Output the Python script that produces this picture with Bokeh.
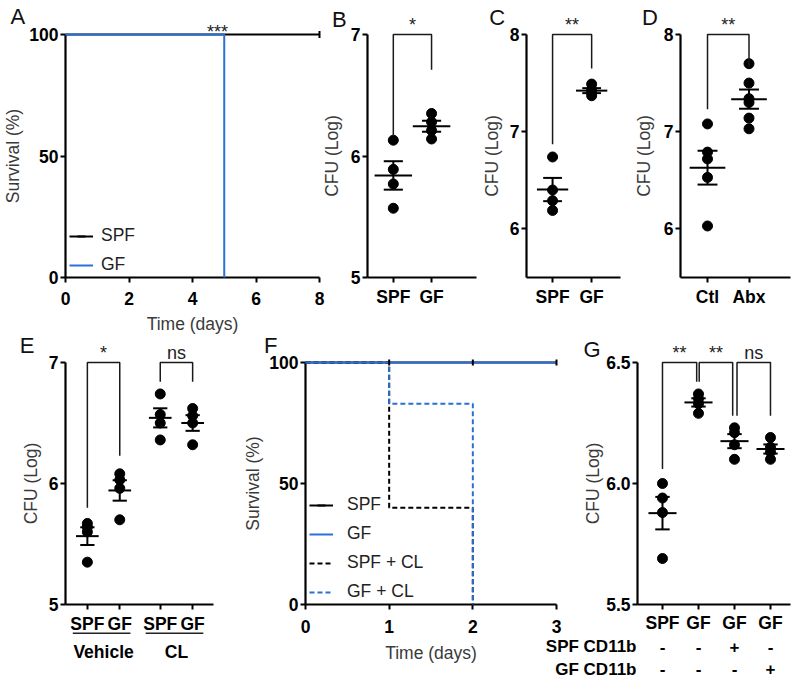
import math
import numpy as np
from bokeh.plotting import figure
from bokeh.models import (Range1d, FixedTicker, GridBox, Legend, LegendItem,
                          PrintfTickFormatter)
from bokeh.core.properties import value
from bokeh.embed import file_html
from bokeh.resources import INLINE

FONT = "Liberation Sans"
BLUE = "#2c6fd6"

# ---------------------------------------------------------------- data
# A: survival (%), SPF vs GF
a_spf_time = [0, 8]
a_spf_surv = [100, 100]
a_spf_censor = [8]
a_gf_time = [0, 5]
a_gf_surv = [100, 0]
a_gf_censor = []
a_xticks = [0, 2, 4, 6, 8]
a_yticks = [0, 50, 100]
a_sig = "***"

# B: CFU (log)
b_labels = ["SPF", "GF"]
b_pos = [1, 2]
b_spf = [6.13, 5.89, 5.77, 5.57]
b_gf = [6.35, 6.28, 6.21, 6.14]
b_yticks = [5, 6, 7]
b_brackets = [(1, 2, 7.0, 6.17, 6.71, "*")]

# C
c_labels = ["SPF", "GF"]
c_pos = [1, 2]
c_spf = [6.74, 6.40, 6.29, 6.19]
c_gf = [7.49, 7.43, 7.40, 7.37]
c_yticks = [6, 7, 8]
c_brackets = [(1, 2, 8.0, 6.87, 7.65, "**")]

# D
d_labels = ["Ctl", "Abx"]
d_pos = [1, 2]
d_ctl = [7.08, 6.79, 6.72, 6.53, 6.03]
d_abx = [7.70, 7.50, 7.34, 7.30, 7.14, 7.03]
d_yticks = [6, 7, 8]
d_brackets = [(1, 2, 8.0, 7.23, 7.66, "**")]

# E
e_labels = ["SPF", "GF", "SPF", "GF"]
e_pos = [1, 2, 3.25, 4.25]
e_groups = ["Vehicle", "CL"]
e_group_members = [(0, 1), (2, 3)]
e_veh_spf = [5.67, 5.64, 5.60, 5.35]
e_veh_gf = [6.08, 6.03, 5.96, 5.70]
e_cl_spf = [6.74, 6.57, 6.50, 6.36]
e_cl_gf = [6.62, 6.56, 6.50, 6.32]
e_yticks = [5, 6, 7]
e_brackets = [(1, 2, 7.0, 5.80, 6.23, "*"),
              (3.25, 4.25, 7.0, 6.84, 6.84, "ns")]

# F: survival (%)
f_series = ["SPF", "GF", "SPF + CL", "GF + CL"]
f_spf_time, f_spf_surv = [0, 3], [100, 100]
f_gf_time, f_gf_surv = [0, 3], [100, 100]
f_spfcl_time, f_spfcl_surv = [0, 1, 2], [100, 40, 0]
f_gfcl_time, f_gfcl_surv = [0, 1, 2], [100, 83, 0]
f_spf_censor = [1, 2, 3]
f_xticks = [0, 1, 2, 3]
f_yticks = [0, 50, 100]

# G
g_labels = ["SPF", "GF", "GF", "GF"]
g_pos = [1, 2, 3, 4]
g_spf = [6.00, 5.94, 5.88, 5.69]
g_gf = [6.37, 6.35, 6.33, 6.29]
g_gf_spfcd = [6.23, 6.21, 6.16, 6.10]
g_gf_gfcd = [6.19, 6.15, 6.13, 6.10]
g_yticks = [5.5, 6.0, 6.5]
g_row_names = ["SPF CD11b", "GF CD11b"]
g_spf_cd11b = ["-", "-", "+", "-"]
g_gf_cd11b = ["-", "-", "-", "+"]
g_brackets = [(1, 1.95, 6.5, 6.06, 6.42, "**"),
              (2.02, 2.95, 6.5, 6.42, 6.28, "**"),
              (3.07, 4.0, 6.5, 6.28, 6.28, "ns")]


# ---------------------------------------------------------------- helpers
def new_panel(fig_box, frame_box, xr, yr):
    fx0, fy0, fx1, fy1 = fig_box
    gx0, gy0, gx1, gy1 = frame_box
    p = figure(width=fx1 - fx0, height=fy1 - fy0,
               x_range=Range1d(*xr), y_range=Range1d(*yr),
               min_border_left=gx0 - fx0, min_border_right=fx1 - gx1,
               min_border_top=gy0 - fy0, min_border_bottom=fy1 - gy1,
               output_backend="svg", toolbar_location=None,
               background_fill_color=None, border_fill_color=None,
               outline_line_color=None)
    p.grid.visible = False

    def X(ix):
        return xr[0] + (ix - gx0) / (gx1 - gx0) * (xr[1] - xr[0])

    def Y(iy):
        return yr[0] + (gy1 - iy) / (gy1 - gy0) * (yr[1] - yr[0])
    return p, X, Y


def style(p, xticks, yticks, ylabel, xlabel=None, xover=None, yfmt=None,
          xstand=4, ylab_stand=5, xlab_stand=6):
    xa, ya = p.xaxis[0], p.yaxis[0]
    xa.ticker = FixedTicker(ticks=xticks)
    ya.ticker = FixedTicker(ticks=yticks)
    for ax in (xa, ya):
        ax.axis_line_width = 2.2
        ax.axis_line_color = "black"
        ax.major_tick_line_width = 2
        ax.major_tick_line_color = "black"
        ax.major_tick_out = 5
        ax.major_tick_in = 0
        ax.minor_tick_line_color = None
        ax.major_label_text_font = FONT
        ax.major_label_text_font_style = "bold"
        ax.major_label_text_font_size = "17.5px"
        ax.major_label_text_color = "black"
        ax.axis_label_text_font = FONT
        ax.axis_label_text_font_style = "normal"
        ax.axis_label_text_font_size = "17.5px"
        ax.axis_label_text_color = "#3a3a3a"
    ya.major_label_standoff = 2
    ya.axis_label_standoff = ylab_stand
    xa.major_label_standoff = xstand
    xa.axis_label_standoff = xlab_stand
    ya.axis_label = ylabel
    if xlabel:
        xa.axis_label = xlabel
    if xover:
        xa.major_label_overrides = xover
    if yfmt:
        ya.formatter = yfmt


def txt(p, x, y, t, size="18px", bold=False, align="center",
        baseline="middle", color="black"):
    r = p.text(x=list(x), y=list(y), text=list(t), text_font=value(FONT),
               text_font_size=size,
               text_font_style="bold" if bold else "normal",
               text_align=align, text_baseline=baseline, text_color=color)
    r.level = "overlay"
    return r


def letter(p, X, Y, ix, iy, t):
    txt(p, [X(ix)], [Y(iy)], [t], size="22px", align="left",
        baseline="middle", color="#111111")


def surv_at(times, surv, t):
    v = surv[0]
    for ti, si in zip(times, surv):
        if ti <= t:
            v = si
    return v


def dots(p, positions, series, hw, cw):
    xs, ys = [], []
    for x, vals in zip(positions, series):
        xs += [x] * len(vals)
        ys += list(vals)
    r = p.scatter(xs, ys, size=10, color="black")
    r.level = "overlay"
    x0, y0, x1, y1 = [], [], [], []
    for x, vals in zip(positions, series):
        v = np.asarray(vals, dtype=float)
        m = v.mean()
        s = v.std(ddof=1) / math.sqrt(len(v))
        for a, b, c, d in [(x - hw, m, x + hw, m), (x, m - s, x, m + s),
                           (x - cw, m + s, x + cw, m + s),
                           (x - cw, m - s, x + cw, m - s)]:
            x0.append(a); y0.append(b); x1.append(c); y1.append(d)
    r = p.segment(x0, y0, x1, y1, line_color="black", line_width=2)
    r.level = "overlay"


def brackets(p, items):
    for x1, x2, top, yl, yr_, lab in items:
        r = p.line([x1, x1, x2, x2], [yl, top, top, yr_], line_color="#1a1a1a",
                   line_width=1.5)
        r.level = "overlay"
        txt(p, [(x1 + x2) / 2], [top], [lab], size="18px", baseline="bottom",
            color="#222222")


def legend(p, items, loc, standoff):
    lg = Legend(items=items, location=loc, orientation="vertical",
                glyph_width=24, glyph_height=20, label_height=20, spacing=8,
                padding=0, margin=0, label_standoff=standoff,
                border_line_color=None, background_fill_alpha=0,
                label_text_font=FONT, label_text_font_size="17.5px",
                label_text_color="#222222")
    p.add_layout(lg)


TOP = (0, 338)      # image y-extent of top-row canvases
BOT = (328, 681)    # image y-extent of bottom-row canvases

# ---------------------------------------------------------------- panel A
pA, XA, YA = new_panel((0, TOP[0], 326, TOP[1]), (65, 34, 319, 278), (0, 8), (0, 100))
style(pA, a_xticks, a_yticks, "Survival (%)", xlabel="Time (days)", xstand=9,
      ylab_stand=3)
rA1 = pA.step(a_spf_time, a_spf_surv, mode="after", line_color="black", line_width=2)
rA2 = pA.step(a_gf_time, a_gf_surv, mode="after", line_color=BLUE, line_width=2)
rA1c = pA.scatter(a_spf_censor, [surv_at(a_spf_time, a_spf_surv, t) for t in a_spf_censor],
                  marker="dash", angle=math.pi / 2, size=7, line_color="black", line_width=2)
rA2c = pA.scatter(a_gf_censor, [surv_at(a_gf_time, a_gf_surv, t) for t in a_gf_censor],
                  marker="dash", angle=math.pi / 2, size=7, line_color=BLUE, line_width=2)
for r in (rA1, rA2, rA1c, rA2c):
    r.level = "overlay"
legend(pA, [LegendItem(label="SPF", renderers=[rA1, rA1c]),
            LegendItem(label="GF", renderers=[rA2, rA2c])], (4, 2), 8)
txt(pA, [XA(217)], [YA(42)], [a_sig], size="18px", baseline="bottom", color="#222222")
letter(pA, XA, YA, 10, 16, "A")

# ---------------------------------------------------------------- panel B
pB, XB, YB = new_panel((318, TOP[0], 478, TOP[1]), (362, 31, 476, 277), (0.325, 3.175), (5, 7))
style(pB, b_pos, b_yticks, "CFU (Log)", xover=dict(zip(b_pos, b_labels)), ylab_stand=6)
dots(pB, b_pos, [b_spf, b_gf], 0.49, 0.25)
brackets(pB, b_brackets)
letter(pB, XB, YB, 325, 16, "B")

# ---------------------------------------------------------------- panel C
pC, XC, YC = new_panel((478, TOP[0], 630, TOP[1]), (519, 32, 620, 277), (0.333, 2.738), (5.5, 8))
style(pC, c_pos, c_yticks, "CFU (Log)", xover=dict(zip(c_pos, c_labels)), ylab_stand=5)
dots(pC, c_pos, [c_spf, c_gf], 0.40, 0.24)
brackets(pC, c_brackets)
letter(pC, XC, YC, 479, 15, "C")

# ---------------------------------------------------------------- panel D
pD, XD, YD = new_panel((630, TOP[0], 792, TOP[1]), (677, 33, 791, 278), (0.349, 3.0), (5.5, 8))
style(pD, d_pos, d_yticks, "CFU (Log)", xover=dict(zip(d_pos, d_labels)), ylab_stand=7)
dots(pD, d_pos, [d_ctl, d_abx], 0.43, 0.24)
brackets(pD, d_brackets)
letter(pD, XD, YD, 637, 16, "D")

# ---------------------------------------------------------------- panel E
pE, XE, YE = new_panel((0, BOT[0], 240, BOT[1]), (64, 360, 213, 604), (0.325, 4.894), (5, 7))
style(pE, e_pos, e_yticks, "CFU (Log)", xover=dict(zip(e_pos, e_labels)), ylab_stand=5)
dots(pE, e_pos, [e_veh_spf, e_veh_gf, e_cl_spf, e_cl_gf], 0.35, 0.22)
brackets(pE, e_brackets)
ux0 = [e_pos[a] - 0.45 for a, b in e_group_members]
ux1 = [e_pos[b] + 0.33 for a, b in e_group_members]
rU = pE.segment(ux0, [YE(633)] * 2, ux1, [YE(633)] * 2, line_color="#222222", line_width=1.5)
rU.level = "overlay"
txt(pE, [(e_pos[a] + e_pos[b]) / 2 for a, b in e_group_members], [YE(652)] * 2,
    e_groups, size="17.5px", bold=True)
letter(pE, XE, YE, 18, 343, "E")

# ---------------------------------------------------------------- panel F
pF, XF, YF = new_panel((240, BOT[0], 565, BOT[1]), (302, 362, 556, 606), (0, 3), (0, 100))
style(pF, f_xticks, f_yticks, "Survival (%)", xlabel="Time (days)", xstand=10,
      ylab_stand=3, xlab_stand=7)
rF3 = pF.step(f_spfcl_time, f_spfcl_surv, mode="after", line_color="black",
              line_width=2, line_dash="5 3")
rF4 = pF.step(f_gfcl_time, f_gfcl_surv, mode="after", line_color=BLUE,
              line_width=2, line_dash="5 3")
rF1 = pF.step(f_spf_time, f_spf_surv, mode="after", line_color="black", line_width=2)
rF2 = pF.step(f_gf_time, f_gf_surv, mode="after", line_color=BLUE, line_width=2)
rF1c = pF.scatter(f_spf_censor, [surv_at(f_spf_time, f_spf_surv, t) for t in f_spf_censor],
                  marker="dash", angle=math.pi / 2, size=6, line_color="black", line_width=2)
for r in (rF1, rF2, rF3, rF4, rF1c):
    r.level = "overlay"
legend(pF, [LegendItem(label=f_series[0], renderers=[rF1, rF1c]),
            LegendItem(label=f_series[1], renderers=[rF2]),
            LegendItem(label=f_series[2], renderers=[rF3]),
            LegendItem(label=f_series[3], renderers=[rF4])], (4, 2), 14)
letter(pF, XF, YF, 260, 345, "F")

# ---------------------------------------------------------------- panel G
pG, XG, YG = new_panel((540, BOT[0], 792, BOT[1]), (637, 357, 790, 604), (0.306, 4.556), (5.5, 6.5))
style(pG, g_pos, g_yticks, "CFU (Log)", xover=dict(zip(g_pos, g_labels)),
      yfmt=PrintfTickFormatter(format="%.1f"), xstand=3, ylab_stand=0)
dots(pG, g_pos, [g_spf, g_gf, g_gf_spfcd, g_gf_gfcd], 0.39, 0.2)
brackets(pG, g_brackets)
txt(pG, [XG(636)] * 2, [YG(647), YG(670)], g_row_names, size="17px", bold=True, align="right")
txt(pG, g_pos, [YG(647)] * 4, g_spf_cd11b, size="17px", bold=True)
txt(pG, g_pos, [YG(670)] * 4, g_gf_cd11b, size="17px", bold=True)
letter(pG, XG, YG, 583, 344, "G")

# ---------------------------------------------------------------- layout
xedges = [0, 240, 318, 326, 478, 540, 565, 630, 792]
yedges = [TOP[0], BOT[0], TOP[1], BOT[1]]
cols = ["%dpx" % (b - a) for a, b in zip(xedges[:-1], xedges[1:])]
rows = ["%dpx" % (b - a) for a, b in zip(yedges[:-1], yedges[1:])]
grid = GridBox(children=[(pA, 0, 0, 2, 3), (pB, 0, 2, 2, 2), (pC, 0, 4, 2, 3),
                         (pD, 0, 7, 2, 1), (pE, 1, 0, 2, 1), (pF, 1, 1, 2, 5),
                         (pG, 1, 5, 2, 3)],
               rows=rows, cols=cols, spacing=0)

open("out.html", "w").write(file_html(grid, INLINE))
